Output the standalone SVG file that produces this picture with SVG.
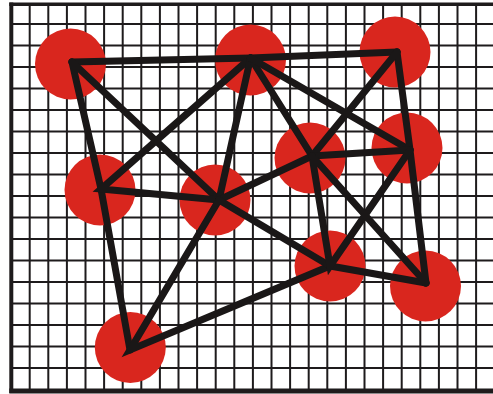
<svg xmlns="http://www.w3.org/2000/svg" width="493" height="394" viewBox="0 0 493 394">
<style>
.grid{stroke:#1e1b1c;stroke-width:2;fill:none}
.border{stroke:#1e1b1c;fill:none}
.node{fill:#d9261e}
.edge{stroke:#1a1717;stroke-width:7;stroke-linecap:round;fill:none}
</style>
<rect x="0" y="0" width="493" height="394" fill="#ffffff"/>
<g id="grid">
<path class="grid" d="M29.7 4V391M48.3 4V391M66.9 4V391M85.5 4V391M104.1 4V391M122.7 4V391M141.3 4V391M159.9 4V391M178.5 4V391M197.1 4V391M215.7 4V391M234.3 4V391M252.9 4V391M271.5 4V391M290.1 4V391M308.7 4V391M327.3 4V391M345.9 4V391M364.5 4V391M383.1 4V391M401.7 4V391M420.3 4V391M438.9 4V391M457.5 4V391M476.1 4V391"/>
<path class="grid" d="M11 24H493M11 45.5H493M11 67H493M11 88.5H493M11 110H493M11 131.5H493M11 153H493M11 174.5H493M11 196H493M11 217.5H493M11 239H493M11 260.5H493M11 282H493M11 303.5H493M11 325H493M11 346.5H493M11 368H493"/>
<path class="border" stroke-width="4" d="M11.3 2.6V393"/>
<path class="border" stroke-width="3.4" d="M9.3 4.3H493"/>
<path class="border" stroke-width="5" d="M9.3 391H493"/>
</g>
<g id="node-A"><circle class="node" cx="70.5" cy="64" r="35.5"/></g>
<g id="node-B"><circle class="node" cx="250.5" cy="60" r="35.5"/></g>
<g id="node-C"><circle class="node" cx="395" cy="52" r="35.5"/></g>
<g id="node-D"><circle class="node" cx="100" cy="190" r="35.5"/></g>
<g id="node-E"><circle class="node" cx="215" cy="200" r="35.5"/></g>
<g id="node-F"><circle class="node" cx="310" cy="158" r="35.5"/></g>
<g id="node-G"><circle class="node" cx="407" cy="148" r="35.5"/></g>
<g id="node-H"><circle class="node" cx="330" cy="266" r="35.5"/></g>
<g id="node-I"><circle class="node" cx="425.5" cy="286" r="35.5"/></g>
<g id="node-J"><circle class="node" cx="130.3" cy="347.5" r="35.5"/></g>
<g id="connectors">
<path class="edge" d="M72 62L250.5 58L397 52"/>
<path class="edge" d="M72 62L101 189L130 350"/>
<path class="edge" d="M72 62L219 200"/>
<path class="edge" d="M250.5 58L101 189L219 200"/>
<path class="edge" d="M250.5 58L219 200"/>
<path class="edge" d="M250.5 58L312 156"/>
<path class="edge" d="M250.5 58L410 150"/>
<path class="edge" d="M397 52L410 150L426 283"/>
<path class="edge" d="M397 52L312 156"/>
<path class="edge" d="M219 200L312 156L410 150"/>
<path class="edge" d="M219 200L130 350L330 266L426 283"/>
<path class="edge" d="M219 200L330 266"/>
<path class="edge" d="M312 156L330 266L410 150"/>
<path class="edge" d="M312 156L426 283"/>
</g>
</svg>
